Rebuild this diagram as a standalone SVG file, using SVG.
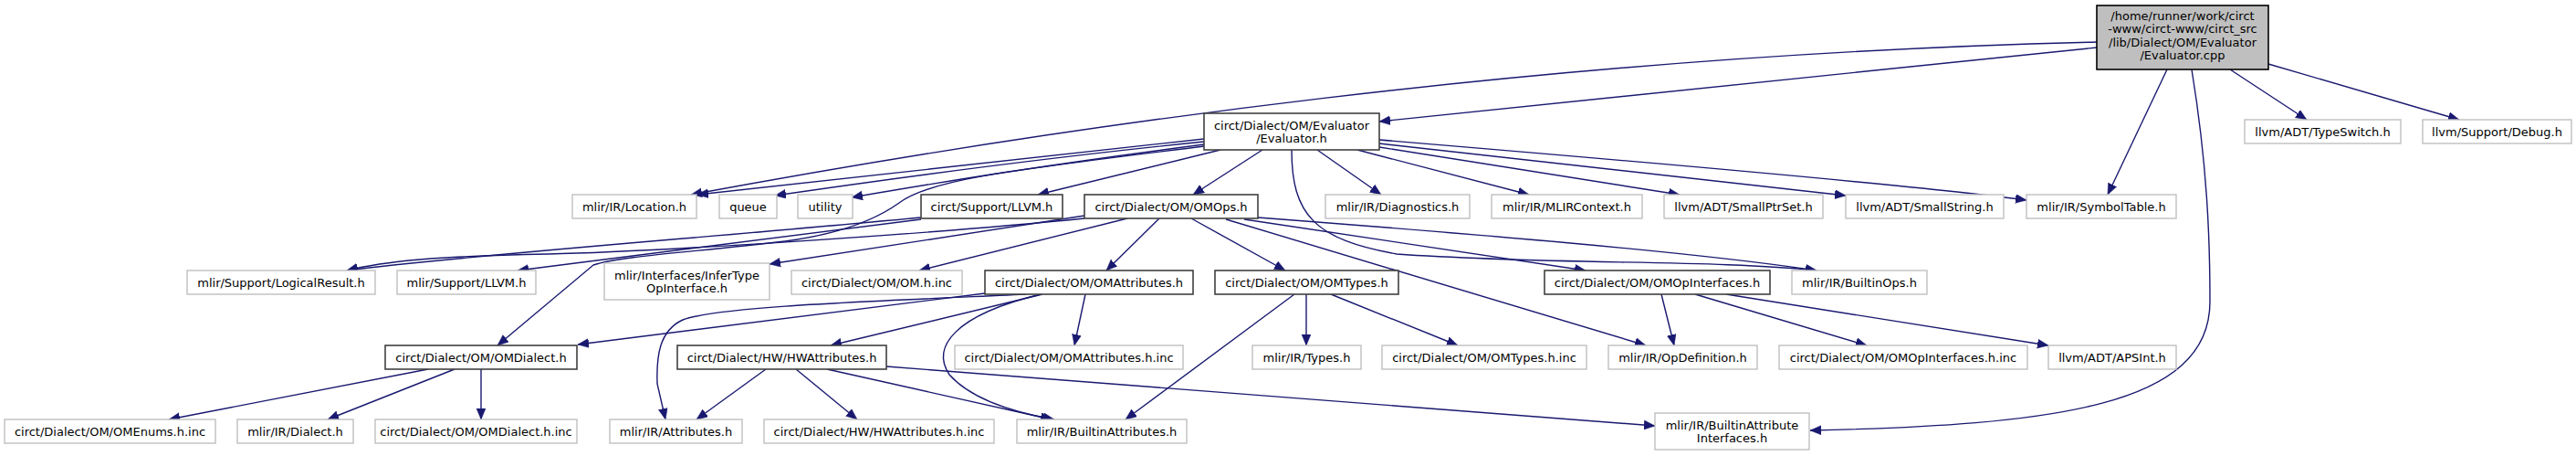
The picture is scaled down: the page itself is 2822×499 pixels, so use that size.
<svg xmlns="http://www.w3.org/2000/svg" width="2822" height="499" viewBox="0 0 2822 499">
<style>
.ext{fill:#ffffff;stroke:#bfbfbf;stroke-width:1.4}
.doc{fill:#ffffff;stroke:#404040;stroke-width:1.6}
.root{fill:#bfbfbf;stroke:#000000;stroke-width:1.6}
text{font-family:"DejaVu Sans","Liberation Sans",sans-serif;font-size:13px;fill:#000000;text-anchor:middle}
.e{fill:none;stroke:#191970;stroke-width:1.4;marker-end:url(#ah)}
</style>
<defs>
<marker id="ah" markerUnits="userSpaceOnUse" markerWidth="13" markerHeight="11" refX="12" refY="5" orient="auto">
<path d="M0,0 L12,5 L0,10 z" fill="#191970" stroke="#191970" stroke-width="0.5"/>
</marker>
</defs>
<rect width="2822" height="499" fill="#ffffff"/>
<g id="edges">
<path class="e" d="M2297,52 L1511,133"/>
<path class="e" d="M2297,46 C1700,60 1150,140 757,213"/>
<path class="e" d="M2374,76 L2309,213"/>
<path class="e" d="M2443,76 L2527,131"/>
<path class="e" d="M2485,70 L2694,131"/>
<path class="e" d="M2401,76 C2418,180 2421,260 2421,330 C2421,445 2250,465 1983,471"/>
<path class="e" d="M1319,152 L764,213"/>
<path class="e" d="M1319,155 C1150,172 1000,192 849,214"/>
<path class="e" d="M1319,158 C1150,180 1050,196 933,216"/>
<path class="e" d="M1319,160 C1120,185 1020,195 985,222 C960,240 920,256 860,264 C760,276 680,280 650,290 L545,378"/>
<path class="e" d="M1337,164 L1137,213"/>
<path class="e" d="M1383,164 L1307,213"/>
<path class="e" d="M1443,164 L1513,213"/>
<path class="e" d="M1415,164 C1415,235 1440,262 1530,278 C1700,290 1880,284 1990,296"/>
<path class="e" d="M1487,164 L1675,213"/>
<path class="e" d="M1511,161 L1840,213"/>
<path class="e" d="M1511,157 L2022,214"/>
<path class="e" d="M1511,153 C1800,177 2100,203 2220,219"/>
<path class="e" d="M1188,239 C1000,258 700,276 600,278 C480,280 420,286 380,296"/>
<path class="e" d="M1009,238 C800,258 500,280 380,296"/>
<path class="e" d="M1009,240 L567,296"/>
<path class="e" d="M1188,236 L843,289"/>
<path class="e" d="M1235,239 L1007,296"/>
<path class="e" d="M1270,239 L1212,296"/>
<path class="e" d="M1305,239 L1408,296"/>
<path class="e" d="M1378,238 C1600,255 1850,275 1990,296"/>
<path class="e" d="M1363,240 L1737,296"/>
<path class="e" d="M1343,240 L1803,378"/>
<path class="e" d="M1079,321 L633,377"/>
<path class="e" d="M1124,322 C950,330 790,335 748,350 C722,362 719,390 720,420 L729,459"/>
<path class="e" d="M1142,322 L910,378"/>
<path class="e" d="M1140,322 C1045,345 1020,380 1040,410 C1065,438 1115,452 1155,459"/>
<path class="e" d="M1189,322 L1177,378"/>
<path class="e" d="M1418,322 L1233,459"/>
<path class="e" d="M1431,322 L1431,378"/>
<path class="e" d="M1458,322 L1597,378"/>
<path class="e" d="M1820,322 L1834,378"/>
<path class="e" d="M1857,322 L2045,378"/>
<path class="e" d="M1891,322 L2244,378"/>
<path class="e" d="M469,404 L185,459"/>
<path class="e" d="M498,404 L359,459"/>
<path class="e" d="M527,404 L527,459"/>
<path class="e" d="M839,404 L763,459"/>
<path class="e" d="M872,404 L939,459"/>
<path class="e" d="M906,404 L1152,459"/>
<path class="e" d="M971,401 L1813,466"/>
</g>
<g id="n_cpp"><rect class="root" x="2297" y="6" width="188" height="70"/>
<text x="2391" y="21.5">/home/runner/work/circt</text><text x="2391" y="36">-www/circt-www/circt_src</text><text x="2391" y="50.5">/lib/Dialect/OM/Evaluator</text><text x="2391" y="65">/Evaluator.cpp</text></g>
<g id="n_evalh"><rect class="doc" x="1319" y="124" width="192" height="40"/>
<text x="1415" y="142">circt/Dialect/OM/Evaluator</text><text x="1415" y="156">/Evaluator.h</text></g>
<g id="n_typeswitch"><rect class="ext" x="2459" y="131" width="171" height="26"/><text x="2544.5" y="148.5">llvm/ADT/TypeSwitch.h</text></g>
<g id="n_debug"><rect class="ext" x="2654" y="131" width="163" height="26"/><text x="2735.5" y="148.5">llvm/Support/Debug.h</text></g>
<g id="n_location"><rect class="ext" x="627" y="213" width="136" height="26"/><text x="695" y="230.5">mlir/IR/Location.h</text></g>
<g id="n_queue"><rect class="ext" x="788" y="213" width="63" height="26"/><text x="819.5" y="230.5">queue</text></g>
<g id="n_utility"><rect class="ext" x="874" y="213" width="60" height="26"/><text x="904" y="230.5">utility</text></g>
<g id="n_csupllvm"><rect class="doc" x="1009" y="213" width="155" height="26"/><text x="1086.5" y="230.5">circt/Support/LLVM.h</text></g>
<g id="n_omops"><rect class="doc" x="1188" y="213" width="190" height="26"/><text x="1283" y="230.5">circt/Dialect/OM/OMOps.h</text></g>
<g id="n_diag"><rect class="ext" x="1452" y="213" width="158" height="26"/><text x="1531" y="230.5">mlir/IR/Diagnostics.h</text></g>
<g id="n_mlirctx"><rect class="ext" x="1634" y="213" width="165" height="26"/><text x="1716.5" y="230.5">mlir/IR/MLIRContext.h</text></g>
<g id="n_smallptrset"><rect class="ext" x="1823" y="213" width="174" height="26"/><text x="1910" y="230.5">llvm/ADT/SmallPtrSet.h</text></g>
<g id="n_smallstring"><rect class="ext" x="2022" y="213" width="173" height="26"/><text x="2108.5" y="230.5">llvm/ADT/SmallString.h</text></g>
<g id="n_symtab"><rect class="ext" x="2220" y="213" width="164" height="26"/><text x="2302" y="230.5">mlir/IR/SymbolTable.h</text></g>
<g id="n_logical"><rect class="ext" x="205" y="296" width="206" height="26"/><text x="308" y="313.5">mlir/Support/LogicalResult.h</text></g>
<g id="n_mllvm"><rect class="ext" x="435" y="296" width="152" height="26"/><text x="511" y="313.5">mlir/Support/LLVM.h</text></g>
<g id="n_infertype"><rect class="ext" x="662" y="288" width="181" height="40"/><text x="752.5" y="306">mlir/Interfaces/InferType</text><text x="752.5" y="320">OpInterface.h</text></g>
<g id="n_omhinc"><rect class="ext" x="867" y="296" width="187" height="26"/><text x="960.5" y="313.5">circt/Dialect/OM/OM.h.inc</text></g>
<g id="n_omattr"><rect class="doc" x="1079" y="296" width="228" height="26"/><text x="1193" y="313.5">circt/Dialect/OM/OMAttributes.h</text></g>
<g id="n_omtypes"><rect class="doc" x="1331" y="296" width="201" height="26"/><text x="1431.5" y="313.5">circt/Dialect/OM/OMTypes.h</text></g>
<g id="n_omopif"><rect class="doc" x="1692" y="296" width="247" height="26"/><text x="1815.5" y="313.5">circt/Dialect/OM/OMOpInterfaces.h</text></g>
<g id="n_builtinops"><rect class="ext" x="1963" y="296" width="148" height="26"/><text x="2037" y="313.5">mlir/IR/BuiltinOps.h</text></g>
<g id="n_omdialect"><rect class="doc" x="422" y="378" width="210" height="26"/><text x="527" y="395.5">circt/Dialect/OM/OMDialect.h</text></g>
<g id="n_hwattr"><rect class="doc" x="742" y="378" width="229" height="26"/><text x="856.5" y="395.5">circt/Dialect/HW/HWAttributes.h</text></g>
<g id="n_omattrinc"><rect class="ext" x="1046" y="378" width="250" height="26"/><text x="1171" y="395.5">circt/Dialect/OM/OMAttributes.h.inc</text></g>
<g id="n_types"><rect class="ext" x="1372" y="378" width="119" height="26"/><text x="1431.5" y="395.5">mlir/IR/Types.h</text></g>
<g id="n_omtypesinc"><rect class="ext" x="1514" y="378" width="224" height="26"/><text x="1626" y="395.5">circt/Dialect/OM/OMTypes.h.inc</text></g>
<g id="n_opdef"><rect class="ext" x="1762" y="378" width="163" height="26"/><text x="1843.5" y="395.5">mlir/IR/OpDefinition.h</text></g>
<g id="n_omopifinc"><rect class="ext" x="1949" y="378" width="272" height="26"/><text x="2085" y="395.5">circt/Dialect/OM/OMOpInterfaces.h.inc</text></g>
<g id="n_apsint"><rect class="ext" x="2244" y="378" width="140" height="26"/><text x="2314" y="395.5">llvm/ADT/APSInt.h</text></g>
<g id="n_omenums"><rect class="ext" x="5" y="459" width="231" height="26"/><text x="120.5" y="476.5">circt/Dialect/OM/OMEnums.h.inc</text></g>
<g id="n_dialect"><rect class="ext" x="260" y="459" width="127" height="26"/><text x="323.5" y="476.5">mlir/IR/Dialect.h</text></g>
<g id="n_omdialectinc"><rect class="ext" x="411" y="459" width="221" height="26"/><text x="521.5" y="476.5">circt/Dialect/OM/OMDialect.h.inc</text></g>
<g id="n_attributes"><rect class="ext" x="668" y="459" width="145" height="26"/><text x="740.5" y="476.5">mlir/IR/Attributes.h</text></g>
<g id="n_hwattrinc"><rect class="ext" x="837" y="459" width="252" height="26"/><text x="963" y="476.5">circt/Dialect/HW/HWAttributes.h.inc</text></g>
<g id="n_builtinattr"><rect class="ext" x="1114" y="459" width="186" height="26"/><text x="1207" y="476.5">mlir/IR/BuiltinAttributes.h</text></g>
<g id="n_bai"><rect class="ext" x="1813" y="452" width="169" height="40"/><text x="1897.5" y="470">mlir/IR/BuiltinAttribute</text><text x="1897.5" y="484">Interfaces.h</text></g>
</svg>
